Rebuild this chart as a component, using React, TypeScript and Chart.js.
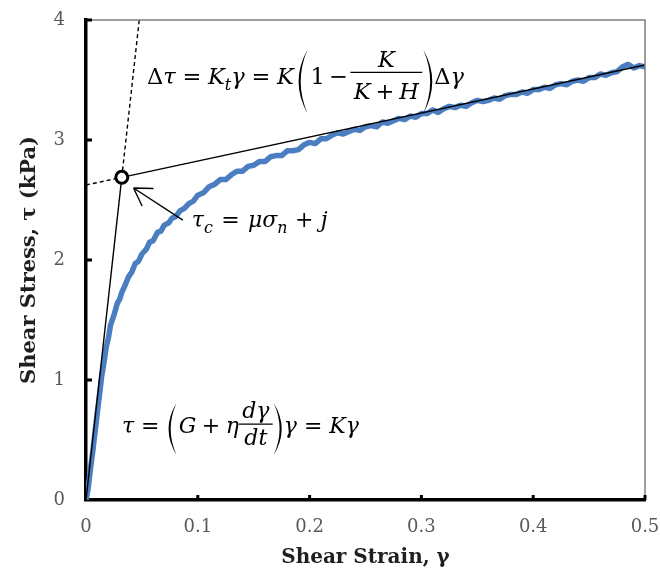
import React, { useEffect, useRef } from "react";
import { Chart, registerables } from "chart.js";
Chart.register(...registerables);

// ---- data ----
const strain = [
  0.0, 0.002, 0.004, 0.006, 0.008, 0.01, 0.012, 0.014, 0.016, 0.018, 0.02, 0.022, 0.025, 0.028, 0.03, 0.032,
  0.035, 0.038, 0.041, 0.044, 0.047, 0.05, 0.054, 0.057, 0.06, 0.064, 0.067, 0.07, 0.074, 0.077, 0.08, 0.084,
  0.088, 0.092, 0.096, 0.1, 0.105, 0.11, 0.115, 0.12, 0.125, 0.13, 0.135, 0.14, 0.145, 0.15, 0.155, 0.16,
  0.165, 0.17, 0.175, 0.18, 0.185, 0.19, 0.195, 0.2, 0.205, 0.21, 0.215, 0.22, 0.225, 0.23, 0.235, 0.24,
  0.245, 0.25, 0.255, 0.26, 0.265, 0.27, 0.275, 0.28, 0.285, 0.29, 0.295, 0.3, 0.305, 0.31, 0.315, 0.32,
  0.325, 0.33, 0.335, 0.34, 0.345, 0.35, 0.355, 0.36, 0.365, 0.37, 0.375, 0.38, 0.385, 0.39, 0.395, 0.4,
  0.405, 0.41, 0.415, 0.42, 0.425, 0.43, 0.435, 0.44, 0.445, 0.45, 0.455, 0.46, 0.465, 0.47, 0.475, 0.48,
  0.485, 0.49, 0.495, 0.5,
];
const stress = [
  0.0, 0.1, 0.26, 0.4, 0.56, 0.72, 0.87, 1.03, 1.14, 1.27, 1.35, 1.46, 1.54, 1.64, 1.67, 1.73,
  1.79, 1.86, 1.9, 1.97, 1.99, 2.05, 2.09, 2.15, 2.16, 2.23, 2.24, 2.29, 2.31, 2.35, 2.36, 2.41,
  2.43, 2.47, 2.49, 2.54, 2.56, 2.61, 2.63, 2.67, 2.67, 2.71, 2.74, 2.74, 2.78, 2.79, 2.82, 2.82,
  2.86, 2.87, 2.87, 2.91, 2.91, 2.92, 2.96, 2.98, 2.97, 3.01, 3.01, 3.04, 3.06, 3.05, 3.07, 3.09,
  3.08, 3.11, 3.12, 3.11, 3.15, 3.14, 3.16, 3.18, 3.17, 3.2, 3.19, 3.22, 3.22, 3.25, 3.23, 3.26,
  3.28, 3.27, 3.29, 3.28, 3.31, 3.33, 3.32, 3.33, 3.35, 3.34, 3.37, 3.38, 3.38, 3.4, 3.39, 3.42,
  3.42, 3.44, 3.43, 3.46, 3.47, 3.46, 3.49, 3.5, 3.49, 3.52, 3.52, 3.55, 3.54, 3.56, 3.57, 3.61,
  3.63, 3.6, 3.62, 3.61,
];
const xTicks = [0, 0.1, 0.2, 0.3, 0.4, 0.5];
const yTicks = [0, 1, 2, 3, 4];
const xMax = 0.5;
const yMax = 4;
const interceptJ = 2.625; // tangent line intercept (kPa)
const tangentSlope = 2.0; // K_t
const elasticK = 84; // K

// derived: intersection (yield point)
const yieldX = interceptJ / (elasticK - tangentSlope);
const yieldY = elasticK * yieldX;

// annotation anchors in data units
const eq1Anchor = { x: 0.0545, y: 3.467 };
const eq2Anchor = { x: 0.0946, y: 2.275 };
const eq3Anchor = { x: 0.0321, y: 0.558 };
const arrowTail = { x: 0.0866, y: 2.333 };
const arrowHead = { x: 0.0425, y: 2.6 };

type Tok = { s?: string; it?: boolean; sub?: boolean; sp?: number; frac?: [Tok[], Tok[]]; paren?: string };
type Opt = { size: number; parenH: number; parenW: number; parenC: number; bar: number; num: number; den: number };

const FAM = '"DejaVu Serif", serif';
const fontStr = (size: number, it?: boolean) => `${it ? "italic " : ""}${size}px ${FAM}`;

function tokWidth(ctx: CanvasRenderingContext2D, toks: Tok[], o: Opt): number {
  let w = 0;
  for (const t of toks) {
    if (t.sp !== undefined) w += t.sp * o.size;
    else if (t.frac) {
      const a = tokWidth(ctx, t.frac[0], o);
      const b = tokWidth(ctx, t.frac[1], o);
      w += Math.max(a, b) + 0.3 * o.size;
    } else if (t.paren) {
      w += o.parenW + 3;
    } else if (t.s) {
      ctx.font = fontStr(t.sub ? o.size * 0.72 : o.size, t.it);
      w += ctx.measureText(t.s).width;
    }
  }
  return w;
}

function drawParen(ctx: CanvasRenderingContext2D, x: number, cy: number, h: number, w: number, left: boolean) {
  const th = 2.1;
  const top = cy - h / 2;
  const bot = cy + h / 2;
  ctx.beginPath();
  if (left) {
    const ex = x + w;
    ctx.moveTo(ex, top);
    ctx.quadraticCurveTo(ex - 2 * w, cy, ex, bot);
    ctx.quadraticCurveTo(ex - 2 * w + 2 * th, cy, ex, top);
  } else {
    const ex = x;
    ctx.moveTo(ex, top);
    ctx.quadraticCurveTo(ex + 2 * w, cy, ex, bot);
    ctx.quadraticCurveTo(ex + 2 * w - 2 * th, cy, ex, top);
  }
  ctx.closePath();
  ctx.fill();
}

function drawToks(ctx: CanvasRenderingContext2D, toks: Tok[], x: number, y: number, o: Opt): number {
  const size = o.size;
  for (const t of toks) {
    if (t.sp !== undefined) {
      x += t.sp * size;
    } else if (t.frac) {
      const a = tokWidth(ctx, t.frac[0], o);
      const b = tokWidth(ctx, t.frac[1], o);
      const w = Math.max(a, b) + 0.3 * size;
      ctx.save();
      ctx.strokeStyle = "#000";
      ctx.lineWidth = 1.3;
      ctx.beginPath();
      ctx.moveTo(x, y - o.bar);
      ctx.lineTo(x + w, y - o.bar);
      ctx.stroke();
      ctx.restore();
      drawToks(ctx, t.frac[0], x + (w - a) / 2, y - o.bar - o.num, o);
      drawToks(ctx, t.frac[1], x + (w - b) / 2, y - o.bar + o.den, o);
      x += w;
    } else if (t.paren) {
      const left = t.paren === "(";
      drawParen(ctx, x + (left ? 2 : 1), y - o.parenC, o.parenH, o.parenW, left);
      x += o.parenW + 3;
    } else if (t.s) {
      const fs = t.sub ? size * 0.72 : size;
      ctx.font = fontStr(fs, t.it);
      ctx.fillText(t.s, x, y + (t.sub ? size * 0.27 : 0));
      x += ctx.measureText(t.s).width;
    }
  }
  return x;
}

const eq1: Tok[] = [
  { s: "Δ" }, { s: "τ", it: true }, { sp: 0.3 }, { s: "=" }, { sp: 0.3 },
  { s: "K", it: true }, { s: "t", it: true, sub: true }, { s: "γ", it: true }, { sp: 0.3 }, { s: "=" }, { sp: 0.3 },
  { s: "K", it: true }, { sp: 0.12 }, { paren: "(" }, { sp: 0.08 }, { s: "1" }, { sp: 0.2 }, { s: "−" }, { sp: 0.1 },
  { frac: [[{ s: "K", it: true }], [{ s: "K", it: true }, { sp: 0.22 }, { s: "+" }, { sp: 0.22 }, { s: "H", it: true }]] },
  { paren: ")" }, { s: "Δ" }, { s: "γ", it: true },
];
const eq2: Tok[] = [
  { s: "τ", it: true }, { s: "c", it: true, sub: true }, { sp: 0.38 }, { s: "=" }, { sp: 0.38 },
  { s: "μσ", it: true }, { s: "n", it: true, sub: true }, { sp: 0.34 }, { s: "+" }, { sp: 0.34 }, { s: "j", it: true },
];
const eq3: Tok[] = [
  { s: "τ", it: true }, { sp: 0.32 }, { s: "=" }, { sp: 0.32 }, { paren: "(" }, { sp: 0.05 },
  { s: "G", it: true }, { sp: 0.25 }, { s: "+" }, { sp: 0.25 }, { s: "η", it: true },
  { frac: [[{ s: "dγ", it: true }], [{ s: "dt", it: true }]] },
  { paren: ")" }, { s: "γ", it: true }, { sp: 0.32 }, { s: "=" }, { sp: 0.32 }, { s: "Kγ", it: true },
];

const eq1Opt: Opt = { size: 22.5, parenH: 64, parenW: 9, parenC: 2.5, bar: 11.5, num: 5.5, den: 27 };
const eq2Opt: Opt = { size: 22, parenH: 50, parenW: 8, parenC: 3, bar: 9, num: 5, den: 14 };
const eq3Opt: Opt = { size: 22, parenH: 52, parenW: 8, parenC: 4, bar: 9, num: 6, den: 21 };

const annotPlugin = {
  id: "annot",
  afterDraw(chart: any) {
    const { ctx, chartArea: ca, scales } = chart;
    const xs = scales.x;
    const ys = scales.y;
    ctx.save();
    // top and right frame lines
    ctx.strokeStyle = "#7f7f7f";
    ctx.lineWidth = 1.5;
    ctx.beginPath();
    ctx.moveTo(ca.left, ca.top);
    ctx.lineTo(ca.right, ca.top);
    ctx.lineTo(ca.right, ca.bottom);
    ctx.stroke();
    // inner tick marks
    ctx.fillStyle = "#000";
    for (const v of xTicks) {
      if (v === 0) continue;
      const px = xs.getPixelForValue(v);
      ctx.fillRect(px - 1.5, ca.bottom - 5, 3, 5);
    }
    for (const v of yTicks) {
      if (v === 0) continue;
      const py = ys.getPixelForValue(v);
      ctx.fillRect(ca.left, py - 1.5, 6, 3);
    }
    // arrow
    const tx = xs.getPixelForValue(arrowTail.x), ty = ys.getPixelForValue(arrowTail.y);
    const hx = xs.getPixelForValue(arrowHead.x), hy = ys.getPixelForValue(arrowHead.y);
    ctx.strokeStyle = "#000";
    ctx.lineWidth = 1.4;
    ctx.beginPath();
    ctx.moveTo(tx, ty);
    ctx.lineTo(hx, hy);
    const ang = Math.atan2(ty - hy, tx - hx);
    const L = 20;
    for (const d of [-0.55, 0.55]) {
      ctx.moveTo(hx, hy);
      ctx.lineTo(hx + L * Math.cos(ang + d), hy + L * Math.sin(ang + d));
    }
    ctx.stroke();
    // equations
    ctx.fillStyle = "#000";
    ctx.textBaseline = "alphabetic";
    ctx.textAlign = "left";
    drawToks(ctx, eq1, xs.getPixelForValue(eq1Anchor.x), ys.getPixelForValue(eq1Anchor.y), eq1Opt);
    drawToks(ctx, eq2, xs.getPixelForValue(eq2Anchor.x), ys.getPixelForValue(eq2Anchor.y), eq2Opt);
    drawToks(ctx, eq3, xs.getPixelForValue(eq3Anchor.x), ys.getPixelForValue(eq3Anchor.y), eq3Opt);
    ctx.restore();
  },
};

export default function App() {
  const ref = useRef<HTMLCanvasElement | null>(null);
  useEffect(() => {
    if (!ref.current) return;
    const curve = strain.map((x, i) => ({ x, y: stress[i] }));
    const tanEnd = { x: xMax, y: interceptJ + tangentSlope * xMax };
    const elEnd = { x: yMax / elasticK, y: yMax };
    const yp = { x: yieldX, y: yieldY };
    const blk = "#000000";
    const chart = new Chart(ref.current, {
      type: "line",
      data: {
        datasets: [
          {
            label: "yield",
            data: [yp],
            showLine: false,
            pointRadius: 6,
            pointBorderWidth: 3,
            pointBackgroundColor: "#ffffff",
            pointBorderColor: blk,
          },
          { label: "tanSolid", data: [yp, tanEnd], borderColor: blk, borderWidth: 1.4, pointRadius: 0 },
          { label: "tanDash", data: [{ x: 0, y: interceptJ }, yp], borderColor: blk, borderWidth: 1.4, borderDash: [4, 3], pointRadius: 0 },
          { label: "elSolid", data: [{ x: 0, y: 0 }, yp], borderColor: blk, borderWidth: 1.4, pointRadius: 0 },
          { label: "elDash", data: [yp, elEnd], borderColor: blk, borderWidth: 1.4, borderDash: [4, 3], pointRadius: 0 },
          { label: "data", data: curve, borderColor: "#4A7EC0", borderWidth: 5.5, pointRadius: 0, tension: 0, borderJoinStyle: "round", borderCapStyle: "round" },
        ],
      },
      options: {
        animation: false,
        responsive: false,
        events: [],
        layout: { padding: 0 },
        plugins: { legend: { display: false }, tooltip: { enabled: false } },
        scales: {
          x: {
            type: "linear",
            min: 0,
            max: xMax,
            afterBuildTicks: (s: any) => { s.ticks = xTicks.map((v) => ({ value: v })); },
            afterFit: (s: any) => { s.height = 78; s.paddingLeft = 0; s.paddingRight = 15; },
            grid: { display: false, drawTicks: false },
            border: { display: true, color: "#000", width: 3.5 },
            ticks: { color: "#595959", font: { family: "DejaVu Serif", size: 18 }, padding: 17, maxRotation: 0 },
            title: {
              display: true,
              text: "Shear Strain, γ",
              color: "#1f1f1f",
              font: { family: "DejaVu Serif", weight: "bold", size: 20 },
              padding: { top: 0, bottom: 8 },
            },
          },
          y: {
            type: "linear",
            min: 0,
            max: yMax,
            afterBuildTicks: (s: any) => { s.ticks = yTicks.map((v) => ({ value: v })); },
            afterFit: (s: any) => { s.width = 86; s.paddingTop = 20; s.paddingBottom = 0; },
            grid: { display: false, drawTicks: false },
            border: { display: true, color: "#000", width: 3.5 },
            ticks: { color: "#595959", font: { family: "DejaVu Serif", size: 18 }, padding: 21 },
            title: {
              display: true,
              text: "Shear Stress, τ (kPa)",
              color: "#1f1f1f",
              font: { family: "DejaVu Serif", weight: "bold", size: 21 },
              padding: { top: 17, bottom: 0 },
            },
          },
        },
      },
      plugins: [annotPlugin],
    } as any);
    return () => chart.destroy();
  }, []);
  return (
    <div style={{ position: "absolute", left: 0, top: 0, width: 660, height: 578, background: "#fff" }}>
      <canvas ref={ref} width={660} height={578} style={{ display: "block" }} />
    </div>
  );
}
